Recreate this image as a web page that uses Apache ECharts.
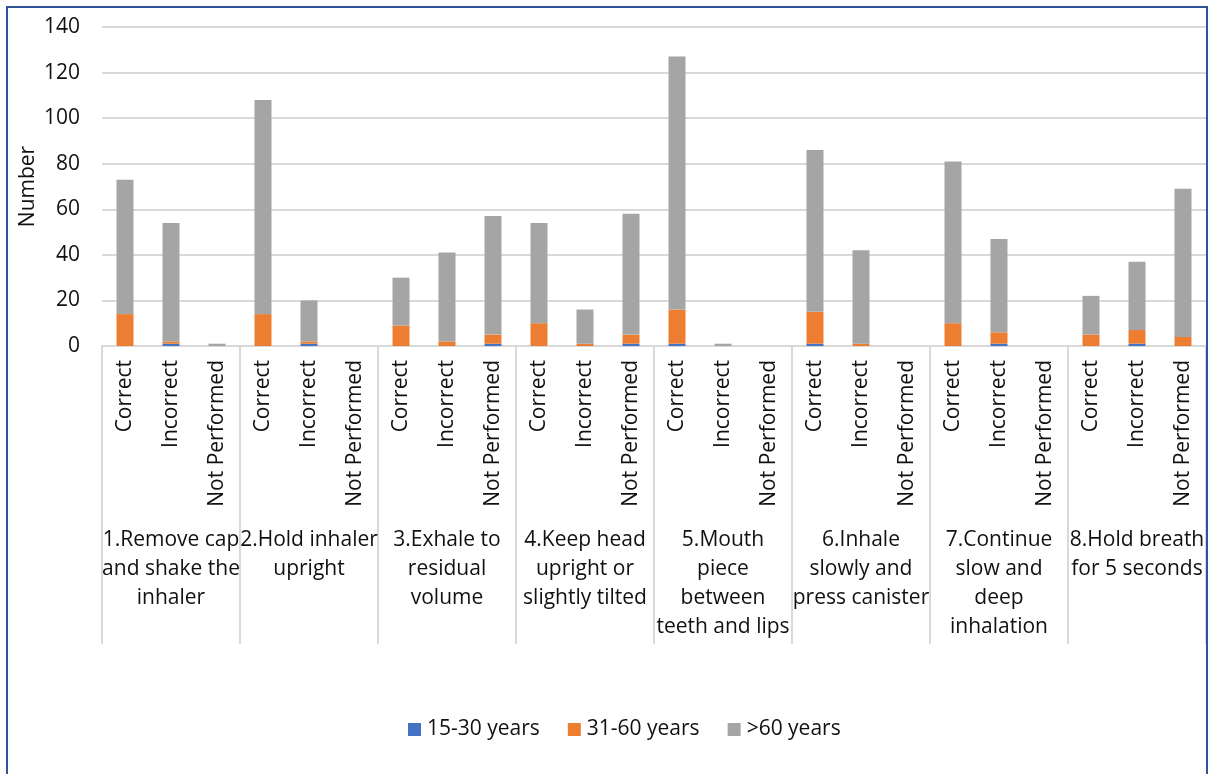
<!DOCTYPE html>
<html>
<head>
<meta charset="utf-8">
<script src="https://cdn.jsdelivr.net/npm/echarts@6/dist/echarts.min.js"></script>
<style>
html,body{margin:0;padding:0;background:#fff;}
#chart{width:1210px;height:774px;}
</style>
</head>
<body>
<div id="chart"></div>
<script>
// ---- data ----
const steps = [
  "1.Remove cap\nand shake the\ninhaler",
  "2.Hold inhaler\nupright",
  "3.Exhale to\nresidual\nvolume",
  "4.Keep head\nupright or\nslightly tilted",
  "5.Mouth\npiece\nbetween\nteeth and lips",
  "6.Inhale\nslowly and\npress canister",
  "7.Continue\nslow and\ndeep\ninhalation",
  "8.Hold breath\nfor 5 seconds"
];
const outcomes = ["Correct", "Incorrect", "Not Performed"];
const seriesNames = ["15-30 years", "31-60 years", ">60 years"];
const age15to30 = [0,1,0, 0,1,0, 0,0,1, 0,0,1, 1,0,0, 1,0,0, 0,1,0, 0,1,0];
const age31to60 = [14,1,0, 14,1,0, 9,2,4, 10,1,4, 15,0,0, 14,1,0, 10,5,0, 5,6,4];
const ageOver60 = [59,52,1, 94,18,0, 21,39,52, 44,15,53, 111,1,0, 71,41,0, 71,41,0, 17,30,65];
const yTicks = { min: 0, max: 140, interval: 20 };

// ---- chart ----
const categories = [];
steps.forEach(() => outcomes.forEach(o => categories.push(o)));
const FONT = "'Open Sans', sans-serif";
const TXT = '#111';
const colors = ["#4472C4", "#ED7D31", "#A5A5A5"];
const chart = echarts.init(document.getElementById('chart'), null, { renderer: 'canvas' });
const mk = (name, data, color) => ({
  name, type: 'bar', stack: 'total', data, barWidth: 17, xAxisIndex: 0,
  itemStyle: { color }, emphasis: { disabled: true }
});
chart.setOption({
  animation: false,
  color: colors,
  textStyle: { fontFamily: FONT },
  graphic: [{
    type: 'rect', shape: { x: 7, y: 7, width: 1200, height: 770 },
    style: { fill: 'none', stroke: '#2F5597', lineWidth: 2 }, z: 100, silent: true
  }],
  grid: { left: 102, right: 4, top: 27, bottom: 428, containLabel: false },
  legend: {
    data: seriesNames, left: 403, top: 714, itemWidth: 13, itemHeight: 13, itemGap: 28,
    icon: 'rect',
    textStyle: { fontFamily: FONT, fontSize: 21, color: TXT, padding: [0, 0, 0, 1] }
  },
  xAxis: [{
    type: 'category', data: categories, position: 'bottom',
    axisLine: { show: true, lineStyle: { color: '#d9d9d9', width: 2 } },
    axisTick: { show: false },
    axisLabel: { rotate: 90, interval: 0, margin: 14, fontFamily: FONT, fontSize: 21, color: TXT }
  }, {
    type: 'category', data: steps, position: 'bottom',
    axisLine: { show: false },
    axisTick: { show: true, length: 298, interval: 0, lineStyle: { color: '#d9d9d9', width: 2 } },
    axisLabel: { interval: 0, margin: 180, fontFamily: FONT, fontSize: 21, lineHeight: 29, color: TXT, align: 'center' }
  }],
  yAxis: {
    type: 'value', min: yTicks.min, max: yTicks.max, interval: yTicks.interval,
    name: 'Number', nameLocation: 'middle', nameGap: 74, nameRotate: 90,
    nameMoveOverlap: false,
    nameTextStyle: { fontFamily: FONT, fontSize: 21, color: TXT, verticalAlign: 'middle' },
    axisLine: { show: false }, axisTick: { show: false },
    axisLabel: { fontFamily: FONT, fontSize: 21, color: TXT, margin: 22 },
    splitLine: { lineStyle: { color: '#d9d9d9', width: 2 } }
  },
  series: [
    mk(seriesNames[0], age15to30, colors[0]),
    mk(seriesNames[1], age31to60, colors[1]),
    mk(seriesNames[2], ageOver60, colors[2])
  ]
});
</script>
</body>
</html>
